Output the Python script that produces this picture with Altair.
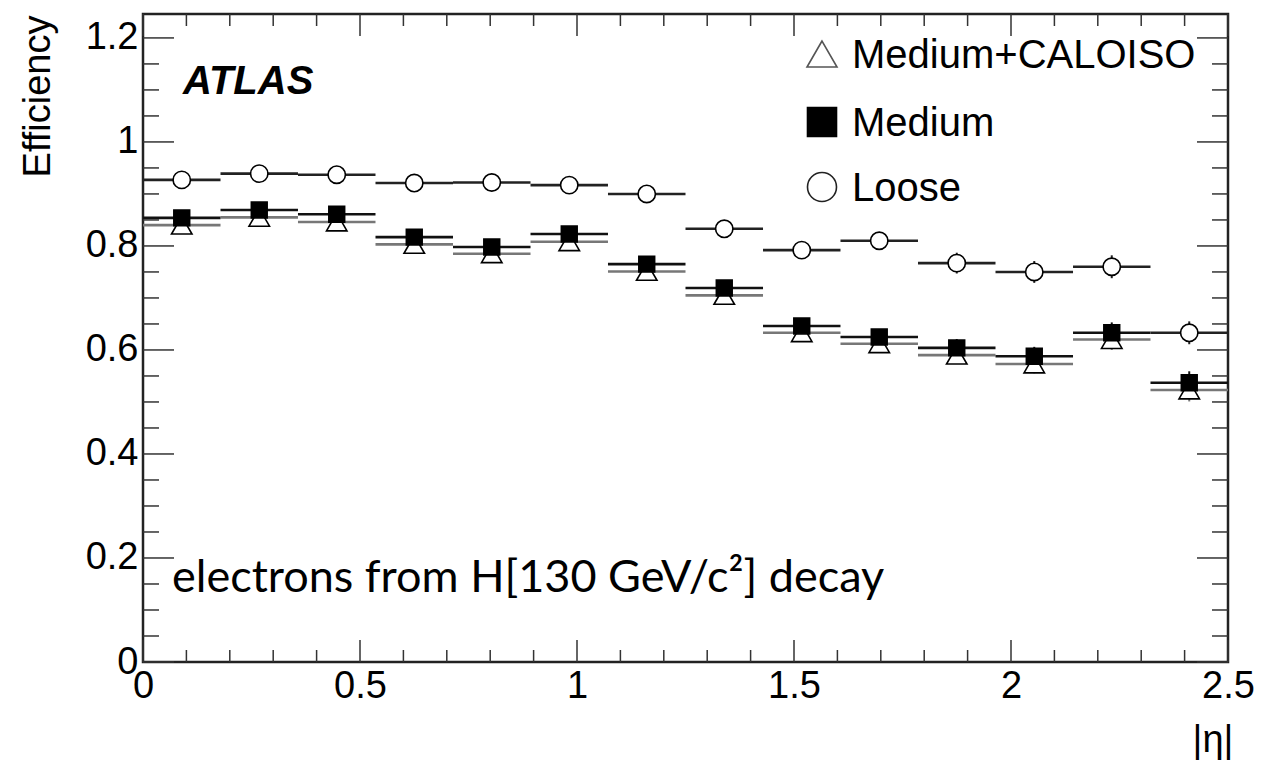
import altair as alt
import pandas as pd

# ---- data ----
bin_lo = [0.0, 0.1786, 0.3571, 0.5357, 0.7143, 0.8929, 1.0714, 1.25, 1.4286, 1.6071, 1.7857, 1.9643, 2.1429, 2.3214]
bin_hi = [0.1786, 0.3571, 0.5357, 0.7143, 0.8929, 1.0714, 1.25, 1.4286, 1.6071, 1.7857, 1.9643, 2.1429, 2.3214, 2.5]
eff_loose = [0.927, 0.939, 0.937, 0.921, 0.922, 0.917, 0.900, 0.833, 0.792, 0.810, 0.767, 0.750, 0.760, 0.633]
err_loose = [0.004, 0.004, 0.004, 0.005, 0.005, 0.006, 0.007, 0.010, 0.014, 0.015, 0.020, 0.021, 0.022, 0.022]
eff_medium = [0.854, 0.869, 0.861, 0.817, 0.798, 0.823, 0.765, 0.719, 0.646, 0.625, 0.604, 0.588, 0.633, 0.537]
err_medium = [0.005, 0.005, 0.005, 0.006, 0.006, 0.007, 0.008, 0.010, 0.014, 0.015, 0.017, 0.018, 0.020, 0.022]
eff_caloiso = [0.840, 0.855, 0.846, 0.803, 0.785, 0.808, 0.751, 0.705, 0.633, 0.612, 0.590, 0.573, 0.620, 0.523]
err_caloiso = [0.005, 0.005, 0.005, 0.006, 0.006, 0.007, 0.008, 0.010, 0.014, 0.015, 0.017, 0.018, 0.020, 0.022]

series_names = ["Medium+CALOISO", "Medium", "Loose"]
x_major = [0, 0.5, 1, 1.5, 2, 2.5]
x_minor = [0.1, 0.2, 0.3, 0.4, 0.6, 0.7, 0.8, 0.9, 1.1, 1.2, 1.3, 1.4, 1.6, 1.7, 1.8, 1.9, 2.1, 2.2, 2.3, 2.4]
y_major = [0, 0.2, 0.4, 0.6, 0.8, 1.0, 1.2]
y_minor = [0.05, 0.1, 0.15, 0.25, 0.3, 0.35, 0.45, 0.5, 0.55, 0.65, 0.7, 0.75, 0.85, 0.9, 0.95, 1.05, 1.1, 1.15]

W, H = 1085, 648
FONT = "Liberation Sans"

rows = []
for name, vals, errs in [("Medium+CALOISO", eff_caloiso, err_caloiso),
                         ("Medium", eff_medium, err_medium),
                         ("Loose", eff_loose, err_loose)]:
    for lo, hi, v, e in zip(bin_lo, bin_hi, vals, errs):
        rows.append({"series": name, "lo": lo, "hi": hi, "mid": (lo + hi) / 2,
                     "eff": v, "ymin": v - e, "ymax": v + e})
df = pd.DataFrame(rows)

xs = alt.Scale(domain=[0, 2.5], nice=False, zero=False)
ys = alt.Scale(domain=[0, 1.246], nice=False, zero=False)

line_colors = {"Medium+CALOISO": "#777777", "Medium": "#111111", "Loose": "#222222"}
shapes = {"Medium+CALOISO": "triangle-up", "Medium": "square", "Loose": "circle"}
fills = {"Medium+CALOISO": "white", "Medium": "black", "Loose": "white"}
sizes = {"Medium+CALOISO": 420, "Medium": 250, "Loose": 300}

axis_x = alt.Axis(values=x_major, format="~g", ticks=False, domain=False, grid=False,
                  labelFlush=False, labelFont=FONT, labelFontSize=38, labelColor="black",
                  labelPadding=5, title="|η|", titleFont=FONT, titleFontSize=38,
                  titleFontWeight="normal", titleColor="black", titleX=1090, titleY=78,
                  titleAlign="right", titleBaseline="middle")
axis_y = alt.Axis(values=y_major, format="~g", ticks=False, domain=False, grid=False,
                  labelFlush=False, labelFont=FONT, labelFontSize=38, labelColor="black",
                  labelPadding=5, title="Efficiency", titleFont=FONT, titleFontSize=38,
                  titleFontWeight="normal", titleColor="black", titleAngle=-90,
                  titleX=-105, titleY=1, titleAlign="right", titleBaseline="middle")

layers = []
for name in series_names:
    d = df[df.series == name]
    base = alt.Chart(d)
    layers.append(base.mark_rule(color=line_colors[name], strokeWidth=2.6).encode(
        x=alt.X("lo:Q", scale=xs, axis=axis_x), x2="hi:Q", y=alt.Y("eff:Q", scale=ys, axis=axis_y)))
    layers.append(base.mark_rule(color=line_colors[name], strokeWidth=2).encode(
        x=alt.X("mid:Q", scale=xs), y=alt.Y("ymin:Q", scale=ys), y2="ymax:Q"))

for name in series_names:
    d = df[df.series == name]
    layers.append(alt.Chart(d).mark_point(
        shape=shapes[name], size=sizes[name], filled=True, fill=fills[name],
        stroke="black", strokeWidth=1.6, opacity=1).encode(
        x=alt.X("mid:Q", scale=xs), y=alt.Y("eff:Q", scale=ys)))

# inward ticks on all four sides
def xticks(vals, length, top):
    d = pd.DataFrame({"v": vals})
    return alt.Chart(d).mark_rule(color="#333333", strokeWidth=1.5).encode(
        x=alt.X("v:Q", scale=xs),
        y=alt.value(0 if top else H), y2=alt.value(length if top else H - length))

def yticks(vals, length, right):
    d = pd.DataFrame({"v": vals})
    return alt.Chart(d).mark_rule(color="#333333", strokeWidth=1.5).encode(
        y=alt.Y("v:Q", scale=ys),
        x=alt.value(W if right else 0), x2=alt.value(W - length if right else length))

layers += [xticks(x_major, 22, False), xticks(x_minor, 12, False),
           xticks(x_major, 22, True), xticks(x_minor, 12, True),
           yticks(y_major, 31, False), yticks(y_minor, 16, False),
           yticks(y_major, 31, True), yticks(y_minor, 16, True)]

# legend (manual, ROOT style)
leg_y = {"Medium+CALOISO": 40, "Medium": 108, "Loose": 173}
leg_stroke = {"Medium+CALOISO": "#555555", "Medium": "black", "Loose": "#222222"}
for name in series_names:
    d = pd.DataFrame({"series": [name]})
    layers.append(alt.Chart(d).mark_point(
        shape=shapes[name], size=841 if name != "Medium+CALOISO" else 900, filled=True,
        fill=fills[name], stroke=leg_stroke[name], strokeWidth=1.6, opacity=1).encode(
        x=alt.value(679), y=alt.value(leg_y[name])))
    layers.append(alt.Chart(d).mark_text(
        font=FONT, fontSize=40, align="left", baseline="middle", color="black").encode(
        text="series:N", x=alt.value(709), y=alt.value(leg_y[name] + 2)))

# annotations
atlas = alt.Chart(pd.DataFrame({"t": ["ATLAS"]})).mark_text(
    font=FONT, fontSize=40, fontWeight="bold", fontStyle="italic", align="left",
    baseline="middle", color="black").encode(text="t:N", x=alt.value(40), y=alt.value(68))
note = alt.Chart(pd.DataFrame({"t": ["electrons from H[130 GeV/c²] decay"]})).mark_text(
    font="Lato", fontSize=45, align="left", baseline="alphabetic", color="black").encode(
    text="t:N", x=alt.value(29), y=alt.value(578))
layers += [atlas, note]

chart = alt.layer(*layers).properties(
    width=W, height=H,
    autosize=alt.AutoSizeParams(type="none"),
    padding={"left": 143, "top": 14, "right": 53, "bottom": 99},
    background="white",
).configure_view(stroke="#222222", strokeWidth=2.5)

chart.save("out.html", embed_options={"renderer": "svg", "actions": False})
